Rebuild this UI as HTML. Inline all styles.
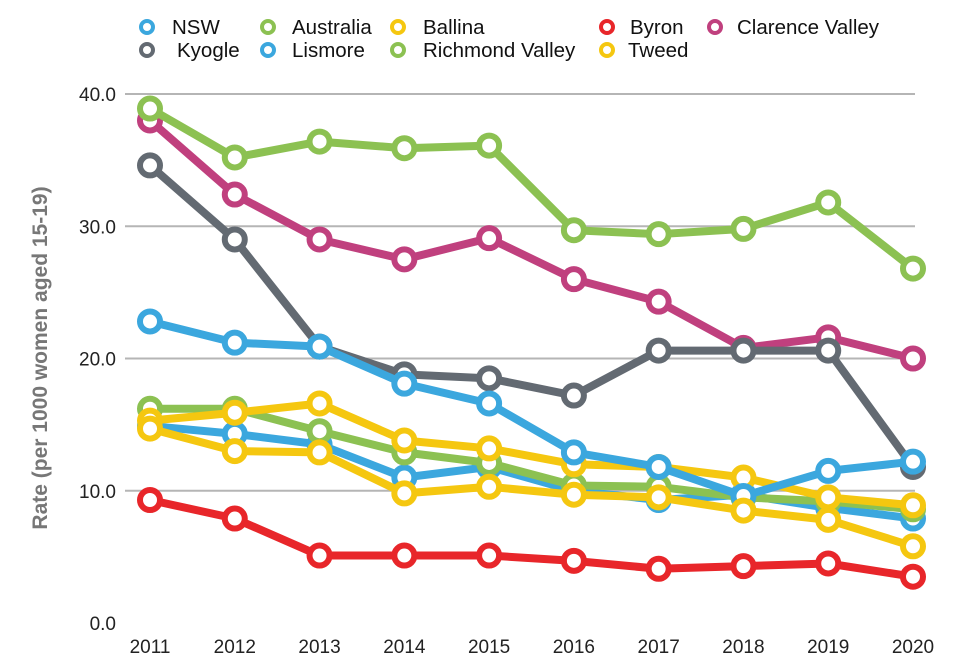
<!DOCTYPE html>
<html><head><meta charset="utf-8"><style>
body{margin:0;background:#fff;font-family:"Liberation Sans",sans-serif}
svg text{font-family:"Liberation Sans",sans-serif}
</style></head><body>
<svg id="c" width="954" height="661"></svg>
<script>
const years=[2011,2012,2013,2014,2015,2016,2017,2018,2019,2020];
const yTicks=[0,10,20,30,40];
const seriesNames=["NSW","Australia","Ballina","Byron","Clarence Valley","Kyogle","Lismore","Richmond Valley","Tweed"];
const seriesColors=["#3ba7de","#8cc152","#f5c710","#e8262a","#c0407e","#636a72","#3ba7de","#8cc152","#f5c710"];
const nsw=[14.9,14.3,13.5,11.0,11.8,10.0,9.3,9.7,8.7,7.9];
const australia=[16.2,16.2,14.5,12.9,12.1,10.4,10.3,9.5,9.2,8.6];
const ballina=[15.3,15.9,16.6,13.8,13.2,12.0,11.8,11.0,9.5,8.9];
const byron=[9.3,7.9,5.1,5.1,5.1,4.7,4.1,4.3,4.5,3.5];
const clarence=[38.0,32.4,29.0,27.5,29.1,26.0,24.3,20.8,21.6,20.0];
const kyogle=[34.6,29.0,20.9,18.8,18.5,17.2,20.6,20.6,20.6,11.8];
const lismore=[22.8,21.2,20.9,18.1,16.6,12.9,11.8,9.6,11.5,12.2];
const richmond=[38.9,35.2,36.4,35.9,36.1,29.7,29.4,29.8,31.8,26.8];
const tweed=[14.7,13.0,12.9,9.8,10.3,9.7,9.5,8.5,7.8,5.8];
const allSeries=[nsw,australia,ballina,byron,clarence,kyogle,lismore,richmond,tweed];

const NS="http://www.w3.org/2000/svg";
const svg=document.getElementById('c');
const x=i=>150+i*(913-150)/(years.length-1);
const y=v=>623-v*(623-94)/40;
function el(t,a,p){const e=document.createElementNS(NS,t);for(const k in a)e.setAttribute(k,a[k]);(p||svg).appendChild(e);return e;}

yTicks.forEach(t=>{
  if(t>0){const g=el('line',{x1:125,x2:915,y1:y(t),y2:y(t),stroke:'#b5b5b5','stroke-width':2});
  
  }
  const l=el('text',{x:116,y:y(t)+7,'text-anchor':'end','font-size':19,fill:'#222'});
  l.textContent=t.toFixed(1);
  
  
});
years.forEach((yr,i)=>{
  const l=el('text',{x:x(i),y:653,'text-anchor':'middle','font-size':19,fill:'#222'});
  l.textContent=yr;
  
  
});
const yt=el('text',{x:0,y:0,transform:'translate(47,358) rotate(-90)','text-anchor':'middle','font-size':21,'font-weight':'bold',fill:'#777'});
yt.textContent='Rate (per 1000 women aged 15-19)';



allSeries.forEach((s,k)=>{
  const g=el('g',{});
  
  
  el('polyline',{points:s.map((v,i)=>x(i)+','+y(v)).join(' '),fill:'none',stroke:seriesColors[k],'stroke-width':8,'stroke-linejoin':'round'},g);
  s.forEach((v,i)=>{
    const c=el('circle',{cx:x(i),cy:y(v),r:10,fill:'#fff',stroke:seriesColors[k],'stroke-width':6},g);
    
    
  });
});

const legPos=[[147,27,172],[268,27,292],[398,27,423],[607,27,630],[715,27,737],[147,50,177],[268,50,292],[398,50,423],[607,50,628]];
seriesNames.forEach((n,k)=>{
  const g=el('g',{});
  
  
  const [lx,ly,tx]=legPos[k];
  el('circle',{cx:lx,cy:ly,r:6,fill:'#fff',stroke:seriesColors[k],'stroke-width':4},g);
  const t=el('text',{x:tx,y:ly+7,'font-size':20.5,fill:'#111'},g);
  t.textContent=n;
});
</script>
</body></html>
